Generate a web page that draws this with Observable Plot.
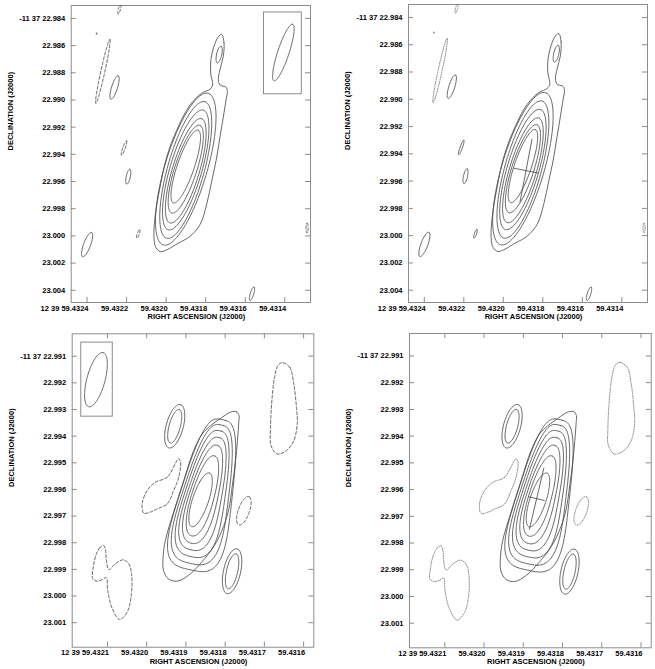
<!DOCTYPE html>
<html><head><meta charset="utf-8">
<script src="https://cdn.jsdelivr.net/npm/d3@7"></script>
<script src="https://cdn.jsdelivr.net/npm/@observablehq/plot@0.6"></script>
<style>
body{margin:0;background:#fff;}
#fig{position:relative;width:655px;height:669px;overflow:hidden;background:#fff;}
.panel{position:absolute;}
</style></head><body><div id="fig"></div>
<script>
// ---------- conversion (mas on sky per second of RA at Dec -11.6 deg) ----------
const MAS_PER_S = 14692;

// ---------- TOP ROW (upper maps) ----------
const topRaTicks = [59.4324, 59.4322, 59.4320, 59.4318, 59.4316, 59.4314];
const topRaLabels = ["12 39 59.4324", "59.4322", "59.4320", "59.4318", "59.4316", "59.4314"];
const topDecTicks = [22.984, 22.986, 22.988, 22.990, 22.992, 22.994, 22.996, 22.998, 23.000, 23.002, 23.004];
const topDecLabels = ["-11 37 22.984", "22.986", "22.988", "22.990", "22.992", "22.994", "22.996", "22.998", "23.000", "23.002", "23.004"];
const topRaDomain = [59.43248, 59.43127];
const topDecDomain = [22.98305, 23.0049];
const topRef = [59.4318, 22.994]; // offsets below are mas west / south of this point

// lowest positive contour (with northern extension), [dx, dy] mas
const topOuter = [[1.19,-8.83],[1.36,-8.21],[1.31,-7.21],[1.06,-6.22],[0.94,-5.48],[1.06,-5.11],[1.51,-4.94],[1.61,-4.61],[1.51,-3.99],[1.31,-2.75],[1.06,-1.26],[0.77,0.47],[0.45,1.96],[0.07,3.69],[-0.42,5.17],[-1.17,6.04],[-2.04,6.54],[-2.90,7.03],[-3.35,7.16],[-3.70,6.86],[-3.84,6.17],[-3.77,4.68],[-3.40,2.45],[-2.90,0.22],[-2.16,-1.76],[-1.17,-3.62],[-0.30,-4.49],[0.32,-4.79],[0.52,-5.11],[0.37,-5.98],[0.39,-6.97],[0.62,-7.96],[0.94,-8.65]];
// nested positive contours: [dx, dy, semi-major, semi-minor, PA]
const topRings = [
  [-1.48, 1.09, 5.82, 1.57, -16.7],
  [-1.48, 1.15, 5.22, 1.36, -15.8],
  [-1.48, 1.15, 4.59, 1.18, -16.5],
  [-1.48, 1.21, 4.01, 1.00, -17],
  [-1.48, 1.09, 3.39, 0.82, -18],
  [-1.48, 0.90, 2.83, 0.63, -19]
];
const topPosBlobs = [[1.0,-7.34,0.63,0.19,-12.6],[-6.77,-4.92,0.90,0.22,-17.6],[-5.75,1.64,0.56,0.15,-12],[-8.81,6.64,0.95,0.26,-20.6],[3.44,10.26,0.52,0.13,-16.7]];
const topNegBlobs = [[-7.64,-6.10,2.41,0.15,-12.5],[-6.41,-10.68,0.37,0.08,-15],[7.53,5.43,0.37,0.08,0],[-8.10,-8.88,0.05,0.03,0]];
const topSmallBlobs = [[-6.07,-0.46,0.56,0.09,-20],[-5.01,5.86,0.33,0.08,-20]];
const topBeam = [5.77,-7.49,2.19,0.42,-18.5];
const topBeamBox = [4.33, 7.14, -10.44, -4.42];
const topCross = [-1.25, 1.23, 2.37, 0.93, -11]; // centre, half major, half minor, PA

// ---------- BOTTOM ROW (lower maps) ----------
const botRaTicks = [59.4321, 59.4320, 59.4319, 59.4318, 59.4317, 59.4316];
const botRaLabels = ["12 39 59.4321", "59.4320", "59.4319", "59.4318", "59.4317", "59.4316"];
const botDecTicks = [22.991, 22.992, 22.993, 22.994, 22.995, 22.996, 22.997, 22.998, 22.999, 23.000, 23.001];
const botDecLabels = ["-11 37 22.991", "22.992", "22.993", "22.994", "22.995", "22.996", "22.997", "22.998", "22.999", "23.000", "23.001"];
const botRaDomain = [59.43219, 59.431574];
const botDecDomain = [22.99016, 23.00192];
const botRef = [59.4318, 22.996];

const botOuter = [[0.20,-2.90],[0.42,-2.92],[0.52,-2.77],[0.51,-2.51],[0.46,-1.83],[0.39,-1.08],[0.27,-0.15],[0.14,0.72],[-0.06,1.39],[-0.40,2.10],[-0.89,2.74],[-1.37,3.22],[-1.79,3.44],[-2.12,3.36],[-2.31,3.04],[-2.32,2.48],[-2.24,1.91],[-1.93,0.85],[-1.55,-0.33],[-1.18,-1.46],[-0.86,-2.08],[-0.55,-2.39],[-0.18,-2.66]];
// [dx, dy, a, b, PA, squareness, taper]
const botRings = [
  [-0.70, 0.20, 2.88, 0.97, -12, 3.4, 0.30],
  [-0.72, 0.18, 2.66, 0.86, -12.5, 3.1, 0.30],
  [-0.74, 0.16, 2.42, 0.75, -13, 2.9, 0.28],
  [-0.76, 0.16, 2.17, 0.64, -14, 2.7, 0.25],
  [-0.79, 0.18, 1.90, 0.53, -15, 2.4, 0.20],
  [-0.83, 0.24, 1.56, 0.42, -16, 2.2, 0.10],
  [-0.92, 0.39, 1.06, 0.30, -18.4, 2, 0]
];
const botPosRings = [[-1.89,-2.37,0.84,0.32,-15],[-1.89,-2.37,0.65,0.21,-15],[0.26,3.07,0.86,0.32,-12.5],[0.26,3.07,0.67,0.21,-12.5]];
const botNegEgg = [[2.13,-4.76],[2.42,-4.58],[2.57,-3.96],[2.67,-3.08],[2.70,-2.46],[2.57,-1.83],[2.30,-1.46],[1.95,-1.33],[1.72,-1.64],[1.70,-2.33],[1.76,-3.45],[1.85,-4.20],[1.97,-4.64]];
const botNegWest = [[-1.74,-1.15],[-2.17,-0.46],[-2.61,-0.27],[-2.92,0.04],[-3.11,0.54],[-3.05,0.89],[-2.80,0.85],[-2.55,0.73],[-2.17,0.54],[-1.93,0.04],[-1.74,-0.46],[-1.67,-1.02]];
const botNegSouth = [[-4.55,2.10],[-4.70,2.19],[-4.83,2.44],[-4.94,2.91],[-4.96,3.35],[-4.79,3.44],[-4.61,3.39],[-4.45,3.31],[-4.40,3.79],[-4.23,4.47],[-3.95,4.88],[-3.67,4.60],[-3.51,3.91],[-3.51,3.16],[-3.61,2.79],[-3.82,2.64],[-4.11,2.79],[-4.36,3.01],[-4.45,2.66],[-4.48,2.29]];
const botNegSmall = [[0.70,0.80,0.56,0.21,-19.5]];
const botBeam = [-4.84,-4.12,1.05,0.34,-15];
const botBeamBox = [-5.39, -4.21, -5.51, -2.73];
const botCross = [-0.97, 0.34, 1.19, 0.31, -13.3];

// ---------- helpers ----------
function sky(ref, dx, dy) { return [ref[0] - dx / MAS_PER_S, ref[1] + dy / 1000]; }
function dirs(pa) {
  const p = pa * Math.PI / 180;
  return [-Math.sin(p), -Math.cos(p), Math.cos(p), -Math.sin(p)];
}
function ring(ref, id, [dx, dy, a, b, pa, n = 2, taper = 0], N = 120) {
  const [ux, uy, vx, vy] = dirs(pa), e = 2 / n, out = [];
  for (let k = 0; k < N; ++k) {
    const t = 2 * Math.PI * k / N, c = Math.cos(t), s = Math.sin(t);
    const u = a * Math.sign(c) * Math.abs(c) ** e;
    const v = b * Math.sign(s) * Math.abs(s) ** e * (1 - taper * u / a);
    const [ra, dec] = sky(ref, dx + u * ux + v * vx, dy + u * uy + v * vy);
    out.push({id, ra, dec});
  }
  return out;
}
function poly(ref, id, pts) {
  return pts.map(([dx, dy]) => { const [ra, dec] = sky(ref, dx, dy); return {id, ra, dec}; });
}
function crossSegs(ref, [dx, dy, L, S, pa]) {
  const [ux, uy, vx, vy] = dirs(pa);
  const seg = (ax, ay) => { const p1 = sky(ref, dx - ax, dy - ay), p2 = sky(ref, dx + ax, dy + ay); return {x1: p1[0], y1: p1[1], x2: p2[0], y2: p2[1]}; };
  return [seg(L * ux, L * uy), seg(S * vx, S * vy)];
}
function boxRect(ref, [x1, x2, y1, y2]) {
  const a = sky(ref, x1, y1), b = sky(ref, x2, y2);
  return [{x1: a[0], y1: a[1], x2: b[0], y2: b[1]}];
}

const CONTOUR = "#4d4d4d", FRAME = "#8c8c8c";
function lines(data, extra = {}) {
  return Plot.line(data, {x: "ra", y: "dec", z: "id", curve: "catmull-rom-closed", stroke: CONTOUR, strokeWidth: 0.85, clip: true, ...extra});
}

function makePanel(cfg) {
  const fw = cfg.width - cfg.mL - cfg.mR, fh = cfg.height - cfg.mT - cfg.mB;
  const font = {fontSize: 7.5, fontWeight: "bold", fill: "#000"};
  const tk = {stroke: FRAME, strokeWidth: 1};
  const marks = [
    Plot.frame({stroke: FRAME, strokeWidth: 1}),
    Plot.tickX(cfg.raTicks, {x: d => d, insetTop: fh - 5, ...tk}),
    Plot.tickY(cfg.decTicks, {y: d => d, insetRight: fw - 5, ...tk}),
    Plot.tickY(cfg.decTicks, {y: d => d, insetLeft: fw - 5, ...tk}),
    Plot.text(cfg.raTicks, {x: d => d, frameAnchor: "bottom", dy: cfg.labDy, dx: 1.5, textAnchor: "end", lineAnchor: "middle", text: (d, i) => cfg.raLabels[i], ...font}),
    Plot.text(cfg.decTicks, {y: d => d, frameAnchor: "left", dx: -6, textAnchor: "end", lineAnchor: "middle", text: (d, i) => cfg.decLabels[i], ...font}),
    Plot.text(["RIGHT ASCENSION (J2000)"], {frameAnchor: "bottom", dx: 5.5, dy: cfg.titleDy, lineAnchor: "middle", text: d => d, ...font}),
    Plot.text(["DECLINATION (J2000)"], {frameAnchor: "left", dx: -60.5, dy: -3.5, rotate: -90, lineAnchor: "middle", text: d => d, ...font}),
    ...cfg.marks
  ];
  if (cfg.topTicks) marks.splice(2, 0, Plot.tickX(cfg.raTicks, {x: d => d, insetBottom: fh - 5, ...tk}));
  const svg = Plot.plot({
    width: cfg.width, height: cfg.height,
    marginLeft: cfg.mL, marginRight: cfg.mR, marginTop: cfg.mT, marginBottom: cfg.mB,
    x: {domain: cfg.raDomain, axis: null},
    y: {domain: cfg.decDomain, reverse: true, axis: null},
    style: {fontFamily: "'Liberation Sans', Arial, Helvetica, sans-serif", background: "transparent", overflow: "visible"},
    marks
  });
  const div = document.createElement("div");
  div.className = "panel";
  div.style.left = cfg.left + "px";
  div.style.top = cfg.top + "px";
  div.appendChild(svg);
  document.getElementById("fig").appendChild(div);
}

// ---------- build contour data ----------
function topData() {
  const pos = [...poly(topRef, "outer", topOuter)];
  topRings.forEach((r, i) => pos.push(...ring(topRef, "r" + i, r)));
  topPosBlobs.forEach((r, i) => pos.push(...ring(topRef, "p" + i, r, 48)));
  const neg = [];
  topNegBlobs.forEach((r, i) => neg.push(...ring(topRef, "n" + i, r, 48)));
  const small = [];
  topSmallBlobs.forEach((r, i) => small.push(...ring(topRef, "s" + i, r, 36)));
  return {pos, neg, small};
}
function botData() {
  const pos = [...poly(botRef, "outer", botOuter)];
  botRings.forEach((r, i) => pos.push(...ring(botRef, "r" + i, r)));
  botPosRings.forEach((r, i) => pos.push(...ring(botRef, "p" + i, r, 72)));
  const neg = [...poly(botRef, "egg", botNegEgg), ...poly(botRef, "west", botNegWest), ...poly(botRef, "south", botNegSouth)];
  botNegSmall.forEach((r, i) => neg.push(...ring(botRef, "n" + i, r, 48)));
  return {pos, neg};
}
const T = topData(), B = botData();
const DASH = {strokeDasharray: "3,2"};
const DOT = {strokeDasharray: "1,1.4", stroke: "#666", strokeWidth: 0.8};

const topCommon = {raTicks: topRaTicks, raLabels: topRaLabels, decTicks: topDecTicks, decLabels: topDecLabels, raDomain: topRaDomain, decDomain: topDecDomain, labDy: 5.8, titleDy: 14};
const botCommon = {raTicks: botRaTicks, raLabels: botRaLabels, decTicks: botDecTicks, decLabels: botDecLabels, raDomain: botRaDomain, decDomain: botDecDomain, labDy: 5.8, titleDy: 14.2, topTicks: true};

makePanel({...topCommon, left: 0, top: 0, width: 327, height: 330, mL: 70.7, mR: 17, mT: 5, mB: 28,
  marks: [
    lines(T.pos), lines(T.neg, DASH), lines(T.small, DASH),
    Plot.rect(boxRect(topRef, topBeamBox), {x1: "x1", x2: "x2", y1: "y1", y2: "y2", fill: "none", stroke: FRAME, strokeWidth: 1}),
    lines(ring(topRef, "beam", topBeam), {curve: "linear-closed"})
  ]});
makePanel({...topCommon, left: 330, top: 0, width: 325, height: 330, mL: 78, mR: 8, mT: 4, mB: 28,
  marks: [
    lines(T.pos), lines(T.neg, DOT), lines(T.small),
    Plot.link(crossSegs(topRef, topCross), {x1: "x1", y1: "y1", x2: "x2", y2: "y2", stroke: CONTOUR, strokeWidth: 0.85})
  ]});
makePanel({...botCommon, left: 0, top: 330, width: 327, height: 339, mL: 71.7, mR: 13.7, mT: 3.3, mB: 22.3,
  marks: [
    lines(B.pos), lines(B.neg, DASH),
    Plot.rect(boxRect(botRef, botBeamBox), {x1: "x1", x2: "x2", y1: "y1", y2: "y2", fill: "none", stroke: FRAME, strokeWidth: 1}),
    lines(ring(botRef, "beam", botBeam), {curve: "linear-closed"})
  ]});
makePanel({...botCommon, left: 330, top: 330, width: 325, height: 339, mL: 79, mR: 4.3, mT: 3, mB: 21.7,
  marks: [
    lines(B.pos), lines(B.neg, DOT),
    Plot.link(crossSegs(botRef, botCross), {x1: "x1", y1: "y1", x2: "x2", y2: "y2", stroke: CONTOUR, strokeWidth: 0.85})
  ]});
</script>
</body></html>
